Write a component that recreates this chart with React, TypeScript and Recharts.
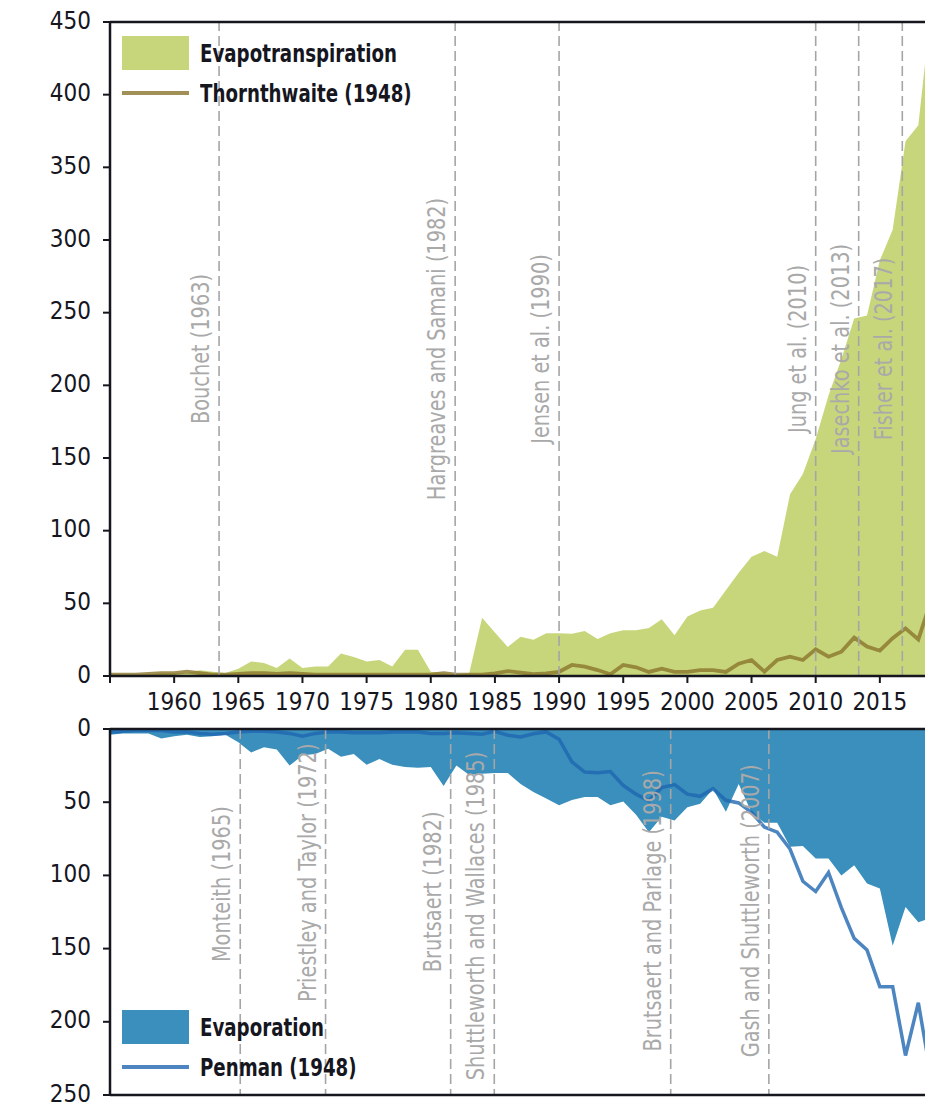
import React from "react";
import { ComposedChart, Area, Line, XAxis, YAxis, ReferenceLine, Legend } from "recharts";

const YEARS = [
  1955, 1956, 1957, 1958, 1959, 1960, 1961, 1962, 1963, 1964,
  1965, 1966, 1967, 1968, 1969, 1970, 1971, 1972, 1973, 1974,
  1975, 1976, 1977, 1978, 1979, 1980, 1981, 1982, 1983, 1984,
  1985, 1986, 1987, 1988, 1989, 1990, 1991, 1992, 1993, 1994,
  1995, 1996, 1997, 1998, 1999, 2000, 2001, 2002, 2003, 2004,
  2005, 2006, 2007, 2008, 2009, 2010, 2011, 2012, 2013, 2014,
  2015, 2016, 2017, 2018, 2019,
];

const EVAPOTRANSPIRATION = [
  1, 1, 1, 1, 2, 2, 2, 4, 3, 2,
  5, 10, 9, 5.5, 12, 5.5, 6.5, 6.5, 15.5, 13,
  10, 11, 6.5, 18, 18, 3, 2, 1, 2, 40,
  30, 20, 27, 25, 29.5, 29.5, 29, 31, 25.5, 29.5,
  31.5, 31.5, 33, 39, 28, 41, 45, 47, 59, 71,
  82, 86, 82, 125, 139, 163, 193, 218, 246, 248,
  286, 307, 368, 379, 460,
];

const THORNTHWAITE = [
  1, 1, 1, 1.5, 2, 2, 3, 2, 1, 1,
  1.5, 2, 2, 1.5, 2, 1.5, 1, 1, 1, 1,
  1, 1, 1, 1, 1, 1, 2, 1, 1, 1,
  1.8, 3.4, 2.3, 1.2, 1.8, 2.9, 7.6, 6.4, 4.1, 1.2,
  7.6, 6, 2.8, 5, 2.9, 2.9, 4, 4, 2.8, 8.5,
  11, 3, 11, 13.3, 11, 18.3, 13.3, 16.7, 26.4, 20.2,
  17.4, 26, 32.8, 25.2, 52,
];

const EVAPORATION = [
  4, 3, 3, 3, 6.5, 5, 4, 5.5, 5, 4,
  9, 16, 12.5, 14, 25, 18, 17, 13.5, 19, 17,
  24.5, 20.5, 24.5, 26, 26.5, 26, 39, 25, 31.5, 30.5,
  30, 30, 37.5, 43, 47.5, 52, 48.5, 46.5, 46.5, 52,
  49.5, 58.5, 70.5, 60, 62.5, 53.5, 51, 41, 56.5, 37.5,
  57, 64, 64, 80.5, 80, 88.5, 88.5, 100, 93, 105.5,
  109, 148, 121.5, 132, 129,
];

const PENMAN = [
  2, 1.5, 1, 1, 1, 2, 2, 3, 3.5, 3,
  2, 1.5, 1.5, 2, 3, 5, 3, 2, 2, 2.5,
  2.5, 2.5, 2, 2, 2, 3, 3, 2.5, 3, 3.5,
  1.6, 4.3, 5.5, 3.2, 2, 7, 22.5, 29.4, 29.8, 29,
  38.5, 44.5, 49, 40, 38, 44.5, 46, 40.8, 48.7, 50.5,
  57, 67, 70.5, 82, 104, 111, 98, 122, 143, 151,
  176, 176, 223, 187, 238,
];

const X_TICKS = [1955, 1960, 1965, 1970, 1975, 1980, 1985, 1990, 1995, 2000, 2005, 2010, 2015];
const TOP_Y_TICKS = [0, 50, 100, 150, 200, 250, 300, 350, 400, 450];
const BOTTOM_Y_TICKS = [0, 50, 100, 150, 200, 250];

const TOP_REFS = [
  { year: 1963.5, name: "Bouchet (1963)" },
  { year: 1981.9, name: "Hargreaves and Samani (1982)" },
  { year: 1990.0, name: "Jensen et al. (1990)" },
  { year: 2010.0, name: "Jung et al. (2010)" },
  { year: 2013.35, name: "Jasechko et al. (2013)" },
  { year: 2016.75, name: "Fisher et al. (2017)" },
];

const BOTTOM_REFS = [
  { year: 1965.15, name: "Monteith (1965)" },
  { year: 1971.8, name: "Priestley and Taylor (1972)" },
  { year: 1981.55, name: "Brutsaert (1982)" },
  { year: 1984.95, name: "Shuttleworth and Wallaces (1985)" },
  { year: 1998.7, name: "Brutsaert and Parlage (1998)" },
  { year: 2006.35, name: "Gash and Shuttleworth (2007)" },
];
// where each rotated label sits, as a share of the plot height
const BOTTOM_LABEL_MID = [0.424, 0.393, 0.445, 0.511, 0.497, 0.497];

const FONT = "'DejaVu Sans Condensed', 'DejaVu Sans', sans-serif";
const STRETCH = "condensed";
const INK = "#16161f";
const GRAY = "#a9a9a9";
const GREEN = "#c8d67b";
const OLIVE = "#8a752c";
const BLUE_AREA = "#3a8fbc";
const BLUE_LINE = "#1f66b0";

const topData = YEARS.map((year, i) => ({ year, et: EVAPOTRANSPIRATION[i], th: THORNTHWAITE[i] }));
const bottomData = YEARS.map((year, i) => ({ year, ev: EVAPORATION[i], pm: PENMAN[i] }));

function RefLabel(props: any) {
  const { viewBox, text, mid } = props;
  if (!viewBox) return null;
  const cx = viewBox.x - 19;
  const cy = viewBox.y + viewBox.height * mid;
  return (
    <text
      x={0}
      y={0}
      transform={`translate(${cx} ${cy}) rotate(-90) scale(0.86 1)`}
      textAnchor="middle"
      dominantBaseline="central"
      fill={GRAY}
      fontSize={25}
      fontFamily={FONT}
      style={{ fontStretch: STRETCH }}
    >
      {text}
    </text>
  );
}

function LegendBox({ items }: { items: { label: string; color: string; kind: "area" | "line" }[] }) {
  return (
    <div style={{ fontFamily: FONT, fontStretch: STRETCH }}>
      {items.map((it, i) => (
        <div key={it.label} style={{ display: "flex", alignItems: "center", height: 34, marginTop: i ? 6 : 0 }}>
          <div style={{ width: 67, height: 34, display: "flex", alignItems: "center" }}>
            {it.kind === "area" ? (
              <div style={{ width: 67, height: 34, background: it.color }} />
            ) : (
              <div style={{ width: 67, height: 4, background: it.color, opacity: 0.8 }} />
            )}
          </div>
          <span
            style={{
              display: "inline-block",
              marginLeft: 11,
              fontSize: 25,
              fontWeight: 700,
              color: INK,
              whiteSpace: "nowrap",
              transform: "scaleX(0.81)",
              transformOrigin: "left center",
            }}
          >
            {it.label}
          </span>
        </div>
      ))}
    </div>
  );
}

const tickStyle = { fill: INK, fontSize: 24, fontFamily: FONT, style: { fontStretch: STRETCH } };

export default function App() {
  return (
    <div
      style={{
        position: "absolute",
        left: 0,
        top: 0,
        width: 925,
        height: 1108,
        overflow: "hidden",
        background: "#fff",
      }}
    >
      <div style={{ position: "absolute", left: 0, top: 0 }}>
        <ComposedChart width={944} height={716} data={topData} margin={{ top: 22, right: 0, bottom: 0, left: 0 }}>
          <XAxis
            dataKey="year"
            type="number"
            domain={[1955, 2020]}
            ticks={X_TICKS}
            interval={0}
            allowDataOverflow
            tickFormatter={(v) => (v === 1955 ? "" : String(v))}
            axisLine={{ stroke: INK, strokeWidth: 2.5 }}
            tickLine={{ stroke: INK, strokeWidth: 2 }}
            tickSize={7}
            tickMargin={10}
            height={40}
            tick={tickStyle}
          />
          <YAxis
            type="number"
            domain={[0, 450]}
            ticks={TOP_Y_TICKS}
            interval={0}
            allowDataOverflow
            width={110}
            axisLine={{ stroke: INK, strokeWidth: 2.5 }}
            tickLine={{ stroke: INK, strokeWidth: 2 }}
            tickSize={7}
            tickMargin={12}
            tick={{ ...tickStyle, dy: -2 }}
          />
          <Area
            dataKey="et"
            type="linear"
            fill={GREEN}
            fillOpacity={1}
            stroke="none"
            isAnimationActive={false}
          />
          <Line
            dataKey="th"
            type="linear"
            stroke={OLIVE}
            strokeOpacity={0.8}
            strokeWidth={3.8}
            dot={false}
            isAnimationActive={false}
          />
          {TOP_REFS.map((r) => (
            <ReferenceLine
              key={r.name}
              x={r.year}
              stroke="#a5a5a5"
              strokeWidth={1.6}
              strokeDasharray="10 5"
              label={<RefLabel text={r.name} mid={0.5} />}
            />
          ))}
          <ReferenceLine y={450} stroke={INK} strokeWidth={2.5} />
          <Legend
            layout="horizontal"
            verticalAlign="middle"
            align="center"
            wrapperStyle={{ position: "absolute", left: 122, top: 36, width: "auto" }}
            content={() => (
              <LegendBox
                items={[
                  { label: "Evapotranspiration", color: GREEN, kind: "area" },
                  { label: "Thornthwaite (1948)", color: OLIVE, kind: "line" },
                ]}
              />
            )}
          />
        </ComposedChart>
      </div>

      <div style={{ position: "absolute", left: 0, top: 690 }}>
        <ComposedChart width={944} height={418} data={bottomData} margin={{ top: 0, right: 0, bottom: 13, left: 0 }}>
          <XAxis
            dataKey="year"
            type="number"
            orientation="top"
            domain={[1955, 2020]}
            ticks={X_TICKS}
            interval={0}
            allowDataOverflow
            axisLine={{ stroke: INK, strokeWidth: 2.5 }}
            tickLine={{ stroke: INK, strokeWidth: 2 }}
            tickSize={7}
            height={39}
            tick={false}
          />
          <YAxis
            type="number"
            domain={[0, 250]}
            reversed
            ticks={BOTTOM_Y_TICKS}
            interval={0}
            allowDataOverflow
            width={110}
            axisLine={{ stroke: INK, strokeWidth: 2.5 }}
            tickLine={{ stroke: INK, strokeWidth: 2 }}
            tickSize={7}
            tickMargin={12}
            tick={{ ...tickStyle, dy: -2 }}
          />
          <Area
            dataKey="ev"
            type="linear"
            fill={BLUE_AREA}
            fillOpacity={1}
            stroke="none"
            isAnimationActive={false}
          />
          <Line
            dataKey="pm"
            type="linear"
            stroke={BLUE_LINE}
            strokeOpacity={0.8}
            strokeWidth={3.5}
            dot={false}
            isAnimationActive={false}
          />
          {BOTTOM_REFS.map((r, i) => (
            <ReferenceLine
              key={r.name}
              x={r.year}
              stroke="#a5a5a5"
              strokeWidth={1.6}
              strokeDasharray="10 5"
              label={<RefLabel text={r.name} mid={BOTTOM_LABEL_MID[i]} />}
            />
          ))}
          <ReferenceLine y={250} stroke={INK} strokeWidth={2.5} />
          <Legend
            layout="horizontal"
            verticalAlign="middle"
            align="center"
            wrapperStyle={{ position: "absolute", left: 122, top: 320, width: "auto" }}
            content={() => (
              <LegendBox
                items={[
                  { label: "Evaporation", color: BLUE_AREA, kind: "area" },
                  { label: "Penman (1948)", color: BLUE_LINE, kind: "line" },
                ]}
              />
            )}
          />
        </ComposedChart>
      </div>
    </div>
  );
}
